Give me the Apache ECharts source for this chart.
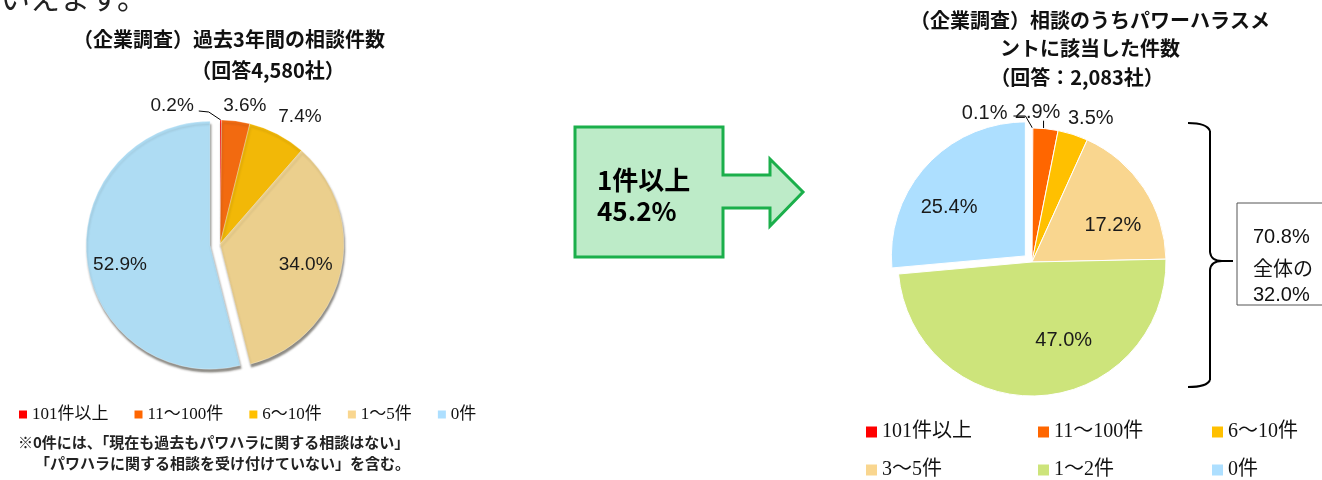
<!DOCTYPE html>
<html>
<head>
<meta charset="utf-8">
<script src="https://cdn.jsdelivr.net/npm/echarts@6/dist/echarts.min.js"></script>
<style>
html,body{margin:0;padding:0;background:#fff;}
#chart{width:1322px;height:480px;}
</style>
</head>
<body>
<div id="chart"></div>
<script>
// ---------- data ----------
const leftCategories = ['101件以上', '11～100件', '6～10件', '1～5件', '0件'];
const leftValues = [0.2, 3.6, 7.4, 34.0, 52.9];
const rightCategories = ['101件以上', '11～100件', '6～10件', '3～5件', '1～2件', '0件'];
const rightValues = [0.1, 2.9, 3.5, 17.2, 47.0, 25.4];
const leftTitle = ['（企業調査）過去3年間の相談件数', '（回答4,580社）'];
const rightTitle = ['（企業調査）相談のうちパワーハラスメ', 'ントに該当した件数', '（回答：2,083社）'];
const arrowText = ['1件以上', '45.2%'];
const boxText = ['70.8%', '全体の', '32.0%'];
const footnote = ['※0件には、「現在も過去もパワハラに関する相談はない」', '「パワハラに関する相談を受け付けていない」を含む。'];
const topCutText = 'いえます。';

// ---------- styles ----------
const leftPieColors = ['#FF0000', '#F26A10', '#F2B807', '#EBCF8D', '#AEDCF3'];
const leftLegendColors = ['#FF0000', '#FF6600', '#FFC000', '#F9D68F', '#ADDFFF'];
const rightColors = ['#FF0000', '#FF6600', '#FFC000', '#F9D68F', '#CDE47B', '#ADDFFF'];
const LEFT_GEOM = {cx: 220, cy: 244, r: 124};
const RIGHT_GEOM = {cx: 1032, cy: 262, r: 134};
const leftPlace = [
  {type: 'out', ox: -27, oy: -14, align: 'right', line: [[0, 0], [-12, -8], [-22, -9]]},
  {type: 'out', ox: 9, oy: -15, align: 'center'},
  {type: 'out', ox: 1, oy: -17, align: 'left'},
  {type: 'in', f: 0.71, nx: 0, ny: 0},
  {type: 'in', f: 0.74, nx: 1, ny: 8}
];
const rightPlace = [
  {type: 'out', ox: -25, oy: -15, align: 'right', line: [[0, 0], [-7, -12], [-19, -12]]},
  {type: 'out', ox: -8, oy: -16, align: 'center', line: [[-2, 3], [-2, -8], [-2, -8]]},
  {type: 'out', ox: -5, oy: -16, align: 'left'},
  {type: 'in', f: 0.66, nx: 7, ny: 12},
  {type: 'in', f: 0.63, nx: 27, ny: -6},
  {type: 'in', f: 0.67, nx: -10, ny: 12}
];
// right legend: 3 columns x 2 rows (one legend component per cell)
const rightLegendLeft = [866, 1038, 1212];
const rightLegendTop = [422, 460];

function midAngles(values) {
  const total = values.reduce((a, b) => a + b, 0);
  let acc = 0;
  return values.map(v => { const m = (acc + v / 2) / total * Math.PI * 2; acc += v; return m; });
}
const leftMid = midAngles(leftValues);
const rightMid = midAngles(rightValues);

function placeLabel(p, g, place, mids) {
  const s = place[p.dataIndex];
  if (!s) return {};
  if (s.type === 'out') {
    const th = mids[p.dataIndex];
    const ax = g.cx + g.r * Math.sin(th), ay = g.cy - g.r * Math.cos(th);
    const res = {x: ax + s.ox, y: ay + s.oy, align: s.align, verticalAlign: 'middle'};
    if (s.line) res.labelLinePoints = s.line.map(d => [ax + d[0], ay + d[1]]);
    return res;
  }
  const rect = p.labelRect;
  const lx = rect.x + rect.width / 2, ly = rect.y + rect.height / 2;
  const vx = lx - g.cx, vy = ly - g.cy;
  const len = Math.hypot(vx, vy) || 1;
  const R = s.f * g.r;
  return {dx: vx / len * R - vx + s.nx, dy: vy / len * R - vy + s.ny};
}

const labelFont = '"Liberation Sans", Arial, sans-serif';
const jpFont = '"Noto Sans CJK JP", sans-serif';
const serifJp = '"Liberation Serif", "Noto Sans CJK JP", serif';

function buildData(cats, vals, colors, place, explodeIdx) {
  return cats.map((c, i) => {
    const out = place[i].type === 'out';
    const item = {
      name: c, value: vals[i],
      itemStyle: {color: colors[i]},
      label: {position: out ? 'outside' : 'inside'},
      labelLine: {show: out && !!place[i].line, length: 8, length2: 8, lineStyle: {color: '#000', width: 1}}
    };
    if (i === explodeIdx) { item.selected = true; }
    return item;
  });
}

const chart = echarts.init(document.getElementById('chart'), null, {renderer: 'canvas'});

function txt(text, x, y, font, align, color) {
  return {type: 'text', x: x, y: y, silent: true, style: {
    text: text, font: font, fill: color || '#111',
    align: align || 'left', verticalAlign: 'middle',
    textAlign: align || 'left', textVerticalAlign: 'middle'
  }};
}
function curve(x1, y1, cx, cy, x2, y2) {
  return {type: 'bezierCurve', silent: true, shape: {x1: x1, y1: y1, x2: x2, y2: y2, cpx1: cx, cpy1: cy}, style: {stroke: '#000', lineWidth: 2, fill: null}};
}
function seg(x1, y1, x2, y2) {
  return {type: 'line', silent: true, shape: {x1: x1, y1: y1, x2: x2, y2: y2}, style: {stroke: '#000', lineWidth: 2}};
}

const graphics = [
  txt(topCutText, 0, -2, '30px ' + jpFont, 'left', '#222'),
  txt(leftTitle[0], 229, 39, 'bold 20px ' + jpFont, 'center'),
  txt(leftTitle[1], 268, 70, 'bold 20px ' + jpFont, 'center'),
  txt(rightTitle[0], 1090, 20, 'bold 20px ' + jpFont, 'center'),
  txt(rightTitle[1], 1090, 48, 'bold 20px ' + jpFont, 'center'),
  txt(rightTitle[2], 1077, 77, 'bold 20px ' + jpFont, 'center'),
  {type: 'polygon', silent: true, shape: {points: [
    [575, 127], [723, 127], [723, 175], [770, 175], [770, 159], [803, 192],
    [770, 226], [770, 208], [723, 208], [723, 257], [575, 257]
  ]}, style: {fill: '#BDEBC8', stroke: '#1BAF4B', lineWidth: 3}},
  txt(arrowText[0], 597, 180, 'bold 26px ' + jpFont, 'left', '#000'),
  txt(arrowText[1], 597, 211, 'bold 26px ' + jpFont, 'left', '#000'),
  // bracket
  curve(1188, 123, 1207, 123, 1210, 131),
  seg(1210, 131, 1210, 252),
  curve(1210, 252, 1211, 261, 1222, 261),
  seg(1222, 261, 1233, 261),
  curve(1222, 261, 1211, 261, 1210, 270),
  seg(1210, 270, 1210, 380),
  curve(1210, 380, 1207, 387, 1188, 387),
  {type: 'rect', silent: true, shape: {x: 1237, y: 203, width: 130, height: 102}, style: {fill: '#fff', stroke: '#555', lineWidth: 1}},
  txt(boxText[0], 1253, 237, '20px ' + labelFont, 'left', '#111'),
  txt(boxText[1], 1253, 268, '20px ' + jpFont, 'left', '#111'),
  txt(boxText[2], 1253, 295, '20px ' + labelFont, 'left', '#111'),
  txt(footnote[0], 18, 442, 'bold 15px ' + jpFont, 'left', '#222'),
  txt(footnote[1], 35, 463, 'bold 15px ' + jpFont, 'left', '#222')
];

const legendIconStyle = {shadowBlur: 0, shadowOffsetX: 0, shadowOffsetY: 0, borderWidth: 0};

const legends = [
  {
    selectedMode: false, orient: 'horizontal', left: 14, top: 401,
    itemWidth: 8, itemHeight: 8, itemGap: 26, icon: 'rect',
    itemStyle: legendIconStyle,
    textStyle: {fontSize: 17, fontFamily: serifJp, color: '#111'},
    data: leftCategories.map((c, i) => ({name: c, itemStyle: {color: leftLegendColors[i]}}))
  }
].concat(rightCategories.map((c, i) => ({
  selectedMode: false, orient: 'horizontal',
  left: rightLegendLeft[i % 3], top: rightLegendTop[Math.floor(i / 3)],
  itemWidth: 11, itemHeight: 11, icon: 'rect', padding: 0,
  itemStyle: legendIconStyle,
  textStyle: {fontSize: 20, fontFamily: serifJp, color: '#111'},
  data: [{name: c, itemStyle: {color: rightColors[i]}}]
})));

const option = {
  animation: false,
  backgroundColor: '#fff',
  legend: legends,
  series: [
    {
      type: 'pie', silent: true, center: [LEFT_GEOM.cx, LEFT_GEOM.cy], radius: LEFT_GEOM.r,
      startAngle: 90, clockwise: true, avoidLabelOverlap: false,
      selectedMode: 'single', selectedOffset: 10,
      itemStyle: {borderColor: 'rgba(255,255,255,0.6)', borderWidth: 0.5,
        shadowBlur: 2, shadowOffsetX: 1, shadowOffsetY: 3, shadowColor: 'rgba(50,45,35,0.55)'},
      label: {show: true, formatter: p => p.value.toFixed(1) + '%', fontSize: 19, fontFamily: labelFont, color: '#1a1a1a'},
      labelLayout: p => placeLabel(p, LEFT_GEOM, leftPlace, leftMid),
      emphasis: {disabled: true},
      data: buildData(leftCategories, leftValues, leftPieColors, leftPlace, 4)
    },
    {
      type: 'pie', silent: true, center: [RIGHT_GEOM.cx, RIGHT_GEOM.cy], radius: RIGHT_GEOM.r,
      startAngle: 90, clockwise: true, avoidLabelOverlap: false,
      selectedMode: 'single', selectedOffset: 9,
      itemStyle: {borderColor: '#fff', borderWidth: 1},
      label: {show: true, formatter: p => p.value.toFixed(1) + '%', fontSize: 20, fontFamily: labelFont, color: '#1a1a1a'},
      labelLayout: p => placeLabel(p, RIGHT_GEOM, rightPlace, rightMid),
      emphasis: {disabled: true},
      data: buildData(rightCategories, rightValues, rightColors, rightPlace, 5)
    }
  ],
  graphic: {elements: graphics}
};
chart.setOption(option);
</script>
</body>
</html>
